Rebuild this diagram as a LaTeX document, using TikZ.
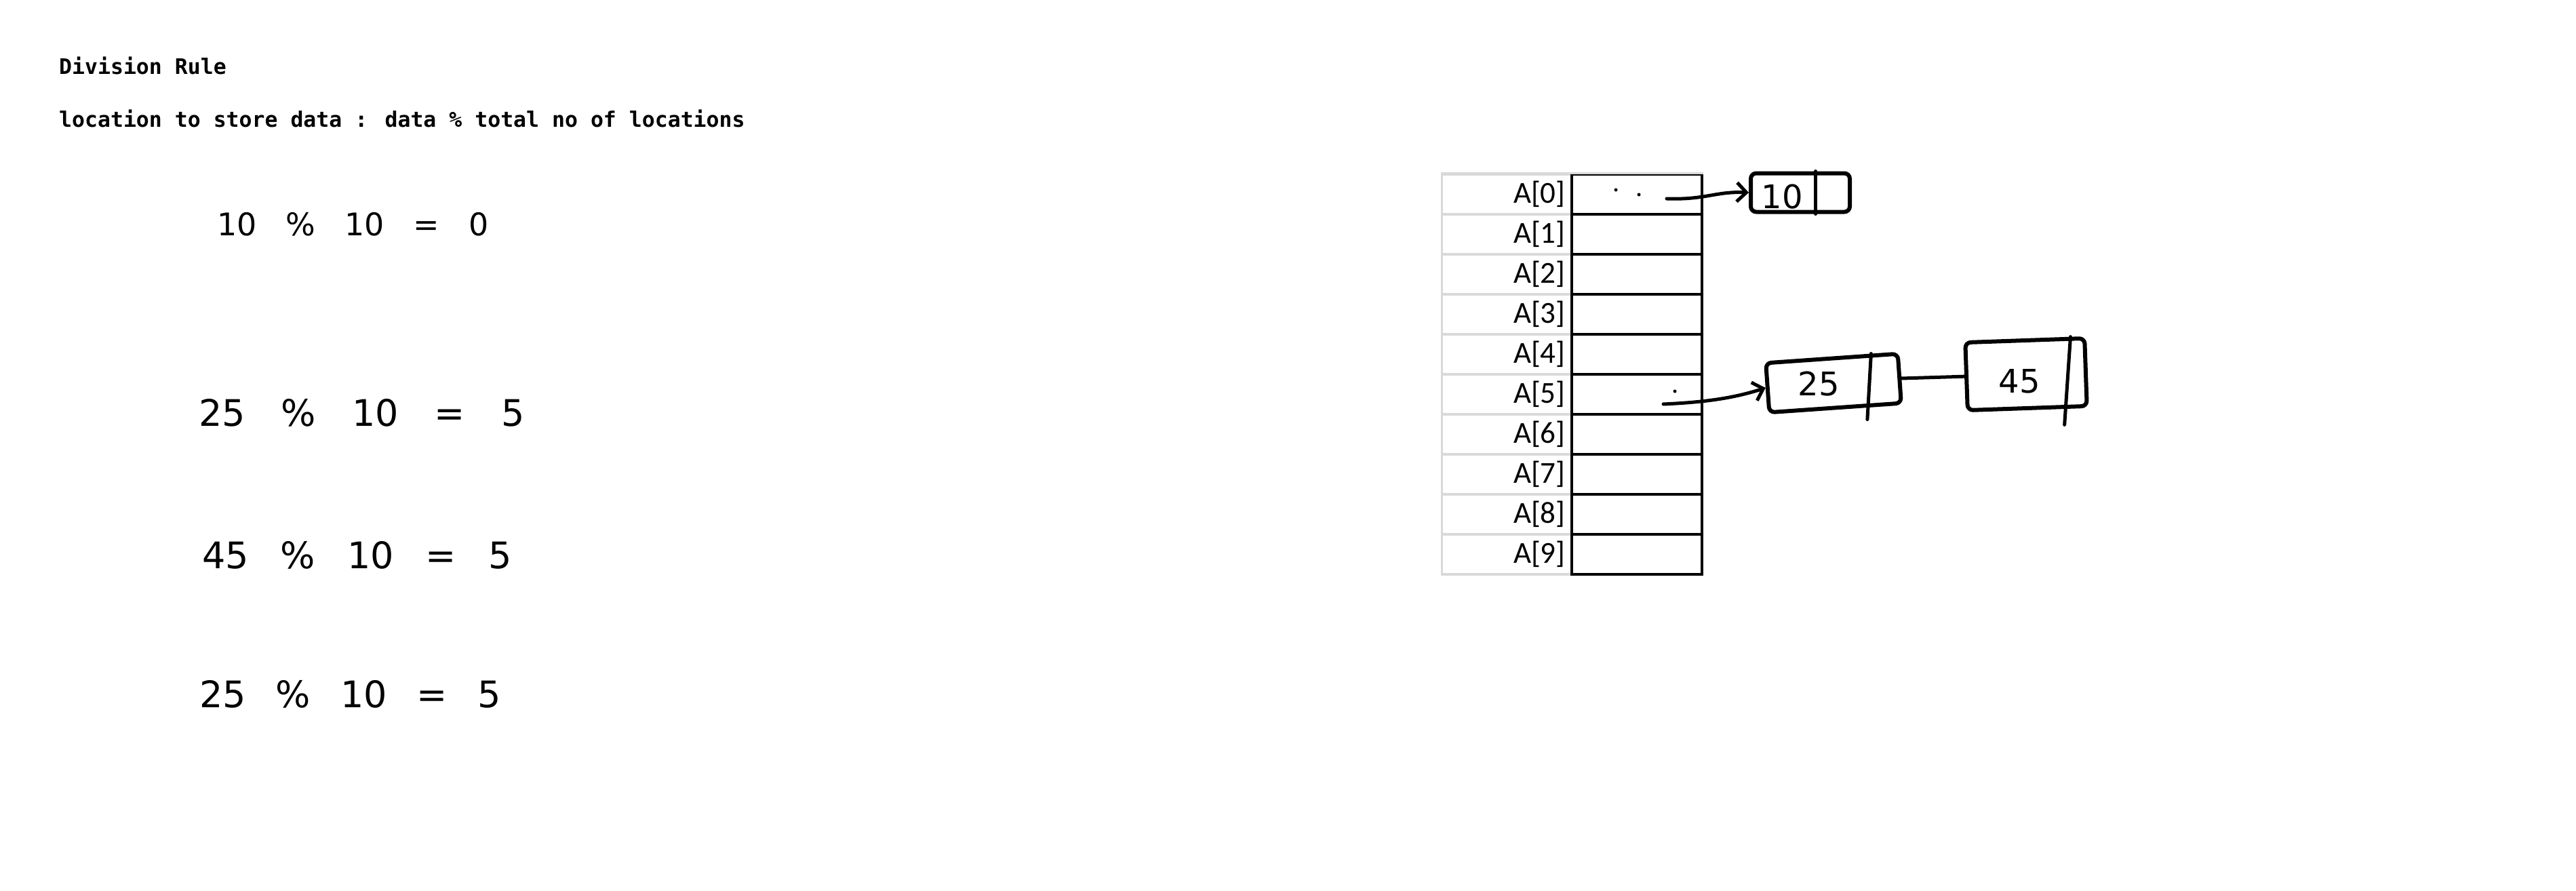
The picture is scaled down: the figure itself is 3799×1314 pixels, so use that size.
\documentclass[tikz,border=0pt]{standalone}
\usepackage{fontspec}
\usetikzlibrary{arrows.meta,calc}
\newfontfamily\monofnt{DejaVu Sans Mono}
\newfontfamily\cellfnt{Carlito}
\newfontfamily\handfnt{DejaVu Sans}
\definecolor{gridgray}{RGB}{217,217,217}
\begin{document}
\begin{tikzpicture}[x=1pt,y=-1pt,
  labcell/.style={draw=gridgray, line width=3.3pt, minimum width=192pt, minimum height=59pt,
    text width=172pt, align=right, inner xsep=10pt, inner ysep=0pt,
    font=\cellfnt\fontsize{45}{50}\selectfont},
  valcell/.style={draw=black, line width=3.3pt, minimum width=192pt, minimum height=59pt, inner sep=0pt},
  hand/.style={line width=5pt, line cap=round, line join=round},
  hbox/.style={draw, line width=6pt, rounded corners=8pt, inner sep=0pt, line join=round},
  numtext/.style={inner sep=0pt, font=\handfnt\fontsize{48}{50}\selectfont},
  eqn/.style={anchor=base west, inner sep=0pt, font=\handfnt},
  heading/.style={anchor=base west, inner sep=0pt, font=\monofnt\bfseries\fontsize{31.5}{36}\selectfont},
  tip/.style={-{Straight Barb[length=14pt,width=28pt]}}
]
\fill[white] (0,0) rectangle (3799,1314);
\useasboundingbox (0,0) rectangle (3799,1314);

% headings
\node[heading] (title) at (87,110) {Division Rule};
\node[heading] (rule) at (87,187) {location to store data : data \% total no of locations};

% handwritten equations
\node[eqn] (e1) at (320,347) {\fontsize{46}{50}\selectfont\spaceskip=43pt\relax 10 \% 10 = 0};
\node[eqn] (e2) at (293,628) {\fontsize{54}{60}\selectfont\spaceskip=53pt\relax 25 \% 10 = 5};
\node[eqn] (e3) at (298,838) {\fontsize{54}{60}\selectfont\spaceskip=47pt\relax 45 \% 10 = 5};
\node[eqn] (e4) at (294,1043) {\fontsize{54}{60}\selectfont\spaceskip=44pt\relax 25 \% 10 = 5};

% table
\foreach \i in {0,...,9} {
  \node[labcell] (lab\i) at (2222.5,{286.5+59*\i}) {A[\i]};
  \node[valcell] (val\i) at (2414,{286.5+59*\i}) {};
}
\draw[gridgray, line width=3.3pt] (lab0.north west) -- (val0.north east);

% linked nodes
\node[hbox, minimum width=146pt, minimum height=57pt] (b10) at (2655,284) {};
\node[hbox, minimum width=195pt, minimum height=73pt, rotate=4] (b25) at (2704,565) {};
\node[hbox, minimum width=176pt, minimum height=100pt, rotate=2] (b45) at (2988,552) {};

\node[numtext] (n10) at (2628,290) {10};
\node[numtext] (n25) at (2682,566) {25};
\node[numtext] (n45) at (2978,562) {45};

% dividers
\draw[hand] ($(b10.north west)!0.65!(b10.north east)$) -- ($(b10.south west)!0.65!(b10.south east)$);
\coordinate (d25a) at ($(b25.north west)!0.79!(b25.north east)$);
\coordinate (d25b) at ($(b25.south west)!0.74!(b25.south east)$);
\draw[hand] (d25a) -- ($(d25a)!1.22!(d25b)$);
\coordinate (d45a) at ($(b45.north west)!0.87!(b45.north east)$);
\coordinate (d45b) at ($(b45.south west)!0.81!(b45.south east)$);
\draw[hand] (d45a) -- ($(d45a)!1.22!(d45b)$);

% stray pen dots
\fill (2383,280) circle (2.5pt);
\fill (2417,287) circle (2.5pt);
\fill (2470,577) circle (2.5pt);

% connectors
\coordinate (s0) at (2458,293);
\coordinate (s5) at (2453,596);
\draw[hand, tip] (s0) .. controls (2515,295) and (2530,282) .. (b10.west);
\draw[hand, tip] (s5) .. controls (2520,593) and (2560,586) .. (b25.west);
\draw[hand] (b25.east) -- (b45.west);
\end{tikzpicture}
\end{document}
